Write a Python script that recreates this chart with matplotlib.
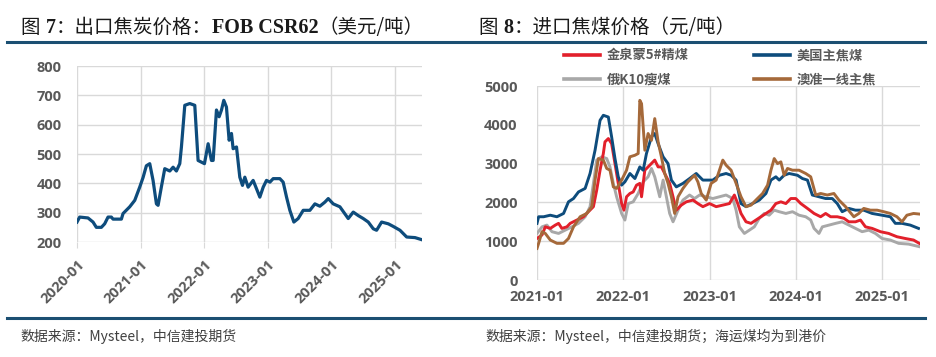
import matplotlib
matplotlib.use('Agg')
import matplotlib.pyplot as plt
import numpy as np
from matplotlib.lines import Line2D

plt.rcParams['font.family'] = ['Open Sans', 'Noto Sans CJK SC', 'DejaVu Sans']

# ---- Fig 7: export coke FOB CSR62 (USD/t), x = years since 2020-01 ----
coke_t = [0, .042, .173, .252, .304, .383, .435, .488, .540, .567,
          .698, .724, .829, .908, .986, 1.039, 1.091, 1.144, 1.196, 1.249,
          1.275, 1.327, 1.380, 1.459, 1.511, 1.563, 1.616, 1.642, 1.695, 1.773,
          1.852, 1.904, 2.004, 2.062, 2.114, 2.141, 2.193, 2.235, 2.272, 2.308,
          2.350, 2.392, 2.429, 2.455, 2.508, 2.560, 2.602, 2.639, 2.691, 2.770,
          2.833, 2.875, 2.928, 2.980, 3.033, 3.085, 3.190, 3.242, 3.295, 3.347,
          3.410, 3.478, 3.557, 3.662, 3.741, 3.819, 3.898, 3.951, 4.029, 4.134,
          4.265, 4.344, 4.423, 4.501, 4.580, 4.659, 4.711, 4.790, 4.895, 4.974,
          5.079, 5.184, 5.315, 5.420]
coke_v = [268, 285, 282, 268, 250, 250, 262, 285, 285, 278,
          278, 297, 320, 342, 387, 420, 460, 467, 410, 330,
          325, 388, 450, 442, 455, 442, 467, 524, 666, 672,
          666, 478, 467, 535, 478, 478, 650, 627, 650, 683,
          660, 547, 570, 518, 524, 421, 393, 421, 387, 410,
          376, 353, 387, 410, 404, 416, 416, 404, 353, 308,
          268, 280, 308, 308, 330, 322, 336, 348, 330, 320,
          280, 302, 290, 280, 268, 245, 240, 268, 262, 253,
          240, 217, 215, 208]

# ---- Fig 8: imported coking coal (CNY/t), x = years since 2021-01 ----
labels = ['金泉蒙5#精煤', '俄K10瘦煤', '美国主焦煤', '澳准一线主焦']
colors = ['#E2202B', '#A8A8A8', '#0E4C7C', '#A5693A']

red_t = [0, .058, .096, .154, .212, .25, .288, .346, .385, .462,
         .538, .596, .654, .692, .731, .769, .788, .827, .865, .904,
         .942, .981, 1.008, 1.038, 1.077, 1.115, 1.154, 1.192, 1.212, 1.25,
         1.308, 1.365, 1.404, 1.442, 1.5, 1.538, 1.577, 1.615, 1.673, 1.731,
         1.808, 1.865, 1.923, 2.0, 2.077, 2.154, 2.231, 2.288, 2.327, 2.365,
         2.423, 2.481, 2.538, 2.596, 2.654, 2.712, 2.769, 2.827, 2.885, 2.942,
         3.0, 3.058, 3.135, 3.212, 3.288, 3.346, 3.404, 3.481, 3.558, 3.615,
         3.692, 3.75, 3.808, 3.885, 3.981, 4.077, 4.173, 4.269, 4.365, 4.431]
red_v = [1070, 1160, 1370, 1330, 1415, 1460, 1330, 1370, 1460, 1545,
         1630, 1760, 1890, 2315, 2830, 3260, 3560, 3645, 3515, 3000,
         2490, 1970, 1800, 2145, 2230, 2270, 2445, 2490, 2145, 2830,
         2960, 3090, 2915, 2915, 2660, 2490, 2145, 1800, 1930, 2015,
         2060, 1970, 1890, 1970, 1890, 1930, 1970, 2190, 1970, 1715,
         1500, 1460, 1545, 1630, 1715, 1800, 1970, 2015, 1970, 2100,
         2100, 1970, 1845, 1715, 1630, 1715, 1630, 1630, 1590, 1500,
         1500, 1545, 1370, 1330, 1245, 1200, 1115, 1070, 1030, 945]

gray_t = [0, .058, .115, .173, .25, .327, .404, .481, .558, .615,
          .654, .692, .75, .808, .846, .885, .923, .981, 1.019, 1.058,
          1.115, 1.173, 1.231, 1.288, 1.327, 1.365, 1.423, 1.462, 1.5, 1.538,
          1.577, 1.635, 1.692, 1.769, 1.827, 1.885, 1.962, 2.038, 2.115, 2.192,
          2.269, 2.308, 2.346, 2.404, 2.462, 2.519, 2.577, 2.635, 2.692, 2.75,
          2.808, 2.885, 2.962, 3.038, 3.115, 3.173, 3.212, 3.269, 3.308, 3.385,
          3.462, 3.538, 3.615, 3.692, 3.769, 3.846, 3.923, 4.0, 4.096, 4.192,
          4.308, 4.431]
gray_v = [1200, 1370, 1415, 1245, 1200, 1285, 1370, 1460, 1630, 1890,
          2490, 3090, 3175, 3130, 2915, 2490, 2145, 1715, 1545, 1970,
          2015, 2230, 2530, 2660, 2875, 2660, 2145, 2575, 2145, 1715,
          1500, 1800, 2060, 2190, 2100, 2190, 2145, 2100, 2145, 2190,
          2100, 1800, 1370, 1200, 1285, 1370, 1590, 1715, 1670, 1800,
          1760, 1715, 1760, 1670, 1630, 1545, 1330, 1200, 1370, 1415,
          1460, 1500, 1415, 1330, 1245, 1285, 1200, 1070, 1030, 945,
          925, 860]

blue_t = [0, .019, .077, .154, .231, .308, .365, .423, .481, .558,
          .615, .673, .731, .769, .827, .865, .904, .942, .981, 1.019,
          1.077, 1.135, 1.192, 1.231, 1.269, 1.327, 1.365, 1.404, 1.462, 1.519,
          1.558, 1.615, 1.692, 1.769, 1.846, 1.923, 2.038, 2.115, 2.192, 2.25,
          2.308, 2.365, 2.423, 2.5, 2.577, 2.654, 2.712, 2.769, 2.808, 2.865,
          2.923, 3.019, 3.077, 3.135, 3.192, 3.269, 3.346, 3.423, 3.481, 3.538,
          3.615, 3.692, 3.788, 3.885, 4.0, 4.096, 4.154, 4.231, 4.327, 4.423]
blue_v = [1460, 1630, 1630, 1670, 1630, 1715, 2015, 2100, 2270, 2360,
          2745, 3345, 4115, 4245, 4200, 3690, 3130, 2660, 2445, 2530,
          2745, 2615, 2915, 2830, 3260, 3690, 3775, 3515, 3175, 3000,
          2575, 2400, 2490, 2615, 2745, 2575, 2575, 2700, 2745, 2700,
          2575, 1970, 1890, 1970, 2060, 2230, 2575, 2660, 2575, 2700,
          2745, 2700, 2615, 2575, 2190, 2145, 2100, 2100, 1970, 1760,
          1845, 1800, 1800, 1715, 1670, 1630, 1460, 1460, 1415, 1330]

brown_t = [0, .019, .058, .096, .154, .231, .308, .365, .423, .5,
           .577, .635, .673, .712, .769, .808, .846, .885, .923, .981,
           1.038, 1.077, 1.135, 1.173, 1.192, 1.212, 1.25, 1.288, 1.327, 1.365,
           1.404, 1.442, 1.481, 1.519, 1.558, 1.596, 1.635, 1.692, 1.75, 1.827,
           1.865, 1.904, 1.962, 2.019, 2.077, 2.115, 2.154, 2.192, 2.25, 2.308,
           2.365, 2.423, 2.481, 2.538, 2.615, 2.673, 2.712, 2.75, 2.788, 2.827,
           2.865, 2.904, 2.962, 3.038, 3.115, 3.173, 3.231, 3.288, 3.365, 3.442,
           3.5, 3.577, 3.673, 3.731, 3.788, 3.865, 3.942, 4.019, 4.096, 4.173,
           4.231, 4.288, 4.365, 4.431]
brown_v = [815, 945, 1245, 1200, 1030, 945, 945, 1070, 1370, 1630,
           1715, 1890, 2575, 3130, 3090, 2875, 2830, 2400, 2360, 2575,
           2830, 3175, 3215, 3260, 4630, 4545, 3345, 3775, 3600, 4160,
           3560, 3175, 2745, 2490, 2145, 1715, 2145, 2360, 2530, 2700,
           2530, 2230, 2060, 2490, 2575, 2830, 3090, 2960, 2830, 2490,
           2145, 1890, 1930, 2060, 2230, 2445, 2830, 3130, 3000, 3045,
           2700, 2875, 2830, 2830, 2745, 2660, 2190, 2230, 2190, 2230,
           2060, 1890, 1630, 1715, 1845, 1800, 1800, 1760, 1715, 1630,
           1500, 1670, 1715, 1700]

left_years = [2020, 2021, 2022, 2023, 2024, 2025]
right_years = [2021, 2022, 2023, 2024, 2025]

W, H = 936, 357
fig = plt.figure(figsize=(W / 100, H / 100), dpi=100)
ax1 = fig.add_axes([77 / W, 1 - 242 / H, 345 / W, 176 / H])
ax2 = fig.add_axes([537 / W, 1 - 280 / H, 383 / W, 194 / H])

tick_color = '#595959'
grid_color = '#D9D9D9'
tick_font = {'family': ['Open Sans'], 'weight': 'bold', 'size': 10.5, 'color': tick_color}

for ax in (ax1, ax2):
    for s in ax.spines.values():
        s.set_visible(False)
    ax.grid(True, color=grid_color, lw=1)
    ax.set_axisbelow(True)

# left chart
ax1.plot(2020 + np.array(coke_t), coke_v, color='#0E4C7C', lw=2.3, solid_joinstyle='round')
ax1.set_xlim(2020, 2025.425)
ax1.set_ylim(200, 800)
yt1 = list(range(200, 801, 100))
ax1.set_yticks(yt1, [str(v) for v in yt1], **tick_font)
ax1.set_xticks(left_years, [f'{y}-01' for y in left_years], rotation=45, ha='right',
               rotation_mode='anchor', **tick_font)
ax1.tick_params(axis='x', length=4, color=grid_color, pad=7)
ax1.tick_params(axis='y', length=0, pad=11)

# right chart
series = [(red_t, red_v), (gray_t, gray_v), (blue_t, blue_v), (brown_t, brown_v)]
lines = {}
for i in [1, 0, 2, 3]:
    t, v = series[i]
    ln, = ax2.plot(2021 + np.array(t), v, color=colors[i], lw=2.1, label=labels[i])
    lines[i] = ln
ax2.set_xlim(2021, 2025.44)
ax2.set_ylim(0, 5000)
yt2 = list(range(0, 5001, 1000))
ax2.set_yticks(yt2, [str(v) for v in yt2], **tick_font)
ax2.set_xticks(right_years, [f'{y}-01' for y in right_years], **tick_font)
ax2.tick_params(axis='x', length=0, pad=7)
ax2.tick_params(axis='y', length=0, pad=14)

leg = ax2.legend([lines[i] for i in range(4)], labels, ncol=2, frameon=False,
                 loc='upper left', bbox_to_anchor=(22 / 383, 1 + 43 / 194),
                 handlelength=2.7, handletextpad=0.5, columnspacing=5.0,
                 labelspacing=0.8, borderaxespad=0.0,
                 prop={'family': ['Noto Sans CJK SC'], 'weight': 'bold', 'size': 9.5})
for txt in leg.get_texts():
    txt.set_color(tick_color)
for h in leg.legend_handles:
    h.set_linewidth(2.6)

# titles: runs of text in different fonts
cjk = {'family': ['Noto Sans CJK SC'], 'size': 14, 'color': '#1a1a1a'}
ser = {'family': ['Liberation Serif'], 'size': 14.5, 'weight': 'bold', 'color': '#1a1a1a'}

fig.canvas.draw()
rend = fig.canvas.get_renderer()


def put_runs(x_px, y_px, runs):
    x = x_px
    for s, props, gap in runs:
        t = fig.text(x / W, 1 - y_px / H, s, ha='left', va='baseline', **props)
        x += t.get_window_extent(renderer=rend).width + gap


put_runs(20, 33, [('图', cjk, 6), ('7', ser, 0), ('：出口焦炭价格：', cjk, 0),
                  ('FOB CSR62', ser, 0), ('（美元/吨）', cjk, 0)])
put_runs(478, 33, [('图', cjk, 6), ('8', ser, 0), ('：进口焦煤价格（元/吨）', cjk, 0)])

rule_c = '#1B4F72'
fig.add_artist(Line2D([7 / W, 925 / W], [1 - 42 / H] * 2, color=rule_c, lw=2.2))
fig.add_artist(Line2D([7 / W, 925 / W], [1 - 318 / H] * 2, color=rule_c, lw=2.2))

foot = {'family': ['Noto Sans CJK SC'], 'size': 10, 'color': '#404040'}
fig.text(20 / W, 1 - 336 / H, '数据来源：Mysteel，中信建投期货', va='center', **foot)
fig.text(485 / W, 1 - 336 / H, '数据来源：Mysteel，中信建投期货；海运煤均为到港价', va='center', **foot)

fig.savefig('out.png', dpi=100)
